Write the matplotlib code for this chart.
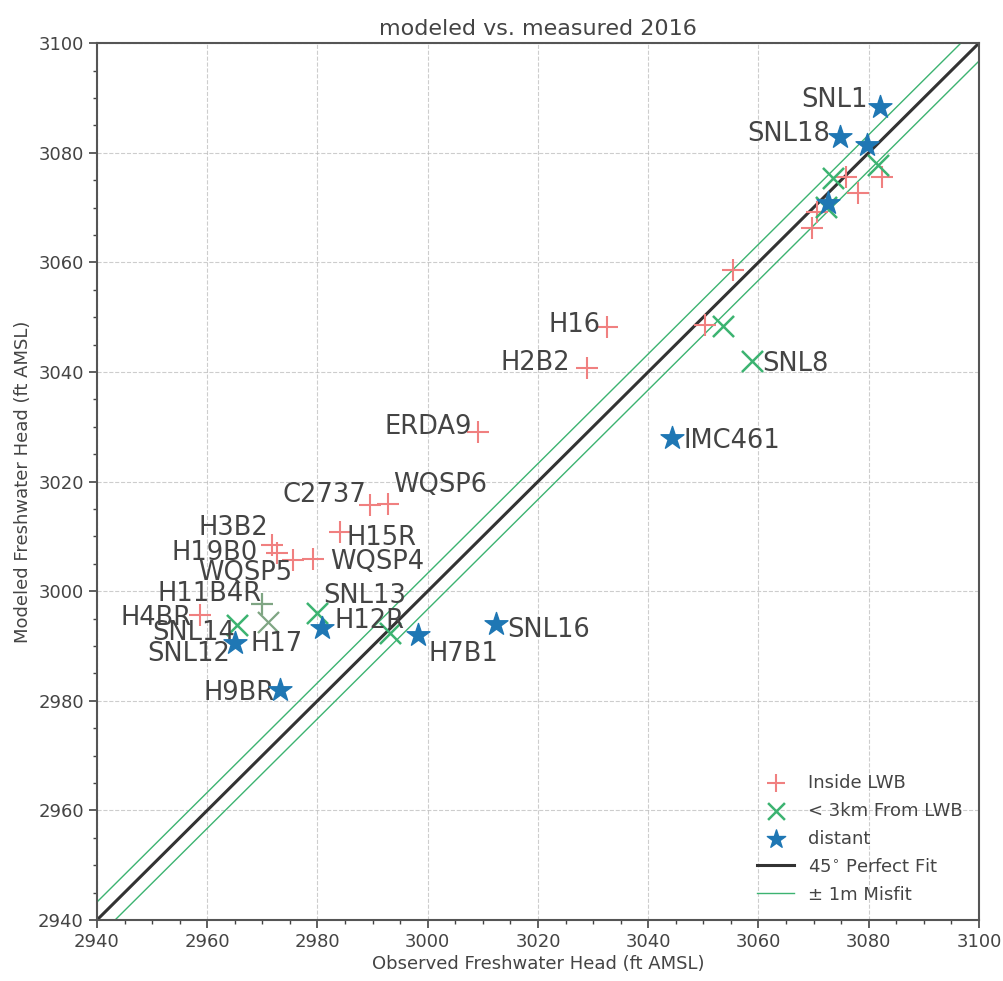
import matplotlib
matplotlib.use("Agg")
import matplotlib.pyplot as plt
import numpy as np
from matplotlib.ticker import MultipleLocator

# observed vs modeled freshwater head, ft AMSL
inside_names = ["H16", "H2B2", "ERDA9", "C2737", "WQSP6", "H15R", "H3B2", "H19B0",
                "WQSP5", "WQSP4", "H4BR", "", "", "", "", "", "", ""]
inside_obs = [3032.6, 3028.9, 3009.1, 2989.5, 2992.8, 2984.1, 2971.8, 2972.7,
              2975.6, 2979.2, 2958.7, 3050.3, 3055.4, 3069.8, 3070.7, 3075.8, 3078.1, 3082.5]
inside_mod = [3048.2, 3040.7, 3029.0, 3015.7, 3015.9, 3010.8, 3008.4, 3006.9,
              3005.7, 3005.8, 2995.6, 3048.5, 3058.6, 3066.2, 3069.2, 3075.5, 3072.6, 3075.5]

near_names = ["SNL8", "SNL14", "SNL13", "", "", "", "", ""]
near_obs = [3058.9, 2965.4, 2979.9, 2993.2, 3053.6, 3072.3, 3073.6, 3081.7]
near_mod = [3042.0, 2993.8, 2996.0, 2992.3, 3048.4, 3070.1, 3075.4, 3077.7]

distant_names = ["SNL1", "SNL18", "", "", "IMC461", "SNL16", "H7B1", "H12R", "SNL12", "H9BR"]
distant_obs = [3082.1, 3074.8, 3079.7, 3072.7, 3044.4, 3012.4, 2998.3, 2980.8, 2965.0, 2973.2]
distant_mod = [3088.3, 3082.8, 3081.4, 3070.8, 3027.9, 2994.0, 2992.0, 2993.2, 2990.5, 2981.9]

# two points drawn in a muted colour in the original
other_names = ["H11B4R", "H17"]
other_obs = [2969.9, 2971.0]
other_mod = [2997.6, 2994.3]
other_markers = ["+", "x"]

misfit_ft = 3.28  # 1 m
limits = [2940, 3100]

# label placement: (dx px, dy px, horizontal alignment)
label_style = {
    "SNL1": (-12, 10, "right"), "SNL18": (-10, 6, "right"), "H16": (-7, 5, "right"),
    "H2B2": (-17, 8, "right"), "SNL8": (10, 0, "left"), "ERDA9": (-6, 8, "right"),
    "IMC461": (11, 0, "left"), "C2737": (-3, 13, "right"), "WQSP6": (5, 22, "left"),
    "H15R": (6, -3, "left"), "H3B2": (-4, 20, "right"), "H19B0": (-19, 3, "right"),
    "WQSP5": (-1, -10, "right"), "WQSP4": (17, 0, "left"), "H11B4R": (0, 13, "right"),
    "SNL13": (6, 20, "left"), "H4BR": (-8, 0, "right"), "SNL14": (-2, -5, "right"),
    "H12R": (13, 10, "left"), "H17": (-17, -19, "left"), "SNL12": (-5, -8, "right"),
    "H9BR": (-5, 0, "right"), "H7B1": (10, -16, "left"), "SNL16": (11, -3, "left"),
}

PINK = "#f08080"
GREEN = "#3cb371"
BLUE = "#1f77b4"
MUTED = "#7fa583"
TEXT = "#444444"


def label_points(ax, names, xs, ys):
    for name, x, y in zip(names, xs, ys):
        if not name:
            continue
        dx, dy, ha = label_style[name]
        ax.annotate(name, (x, y), xytext=(dx, dy), textcoords="offset pixels",
                    ha=ha, va="center_baseline", fontsize=18.5, color=TEXT)


def main() -> None:
    plt.rcParams["font.family"] = ["DejaVu Sans"]
    fig = plt.figure(figsize=(10.04, 9.81), dpi=100)
    ax = fig.add_axes([0.0966, 0.0622, 0.8784, 0.8938])

    ax.grid(True, which="major", color="#b8b8b8", linestyle="--", linewidth=0.8, alpha=0.7)
    ax.set_axisbelow(True)

    line = np.array(limits)
    ax.plot(line, line, color="#333333", linewidth=2.2, label="45$^{\\circ}$ Perfect Fit", zorder=2)
    ax.plot(line, line + misfit_ft, color=GREEN, linewidth=1.0, label="\u00b1 1m Misfit", zorder=2)
    ax.plot(line, line - misfit_ft, color=GREEN, linewidth=1.0, zorder=2)

    ax.scatter(inside_obs, inside_mod, marker="+", s=260, color=PINK, linewidths=1.5,
               label="Inside LWB", zorder=3)
    ax.scatter(near_obs, near_mod, marker="x", s=230, color=GREEN, linewidths=1.8,
               label="< 3km From LWB", zorder=3)
    ax.scatter(distant_obs, distant_mod, marker="*", s=300, color=BLUE, edgecolors=BLUE,
               label="distant", zorder=4)
    for x, y, m in zip(other_obs, other_mod, other_markers):
        ax.scatter([x], [y], marker=m, s=260 if m == "+" else 230, color=MUTED,
                   linewidths=1.6, zorder=3)

    label_points(ax, inside_names, inside_obs, inside_mod)
    label_points(ax, near_names, near_obs, near_mod)
    label_points(ax, distant_names, distant_obs, distant_mod)
    label_points(ax, other_names, other_obs, other_mod)

    ax.set_xlim(limits)
    ax.set_ylim(limits)
    ax.xaxis.set_major_locator(MultipleLocator(20))
    ax.yaxis.set_major_locator(MultipleLocator(20))
    ax.xaxis.set_minor_locator(MultipleLocator(5))
    ax.yaxis.set_minor_locator(MultipleLocator(5))
    ax.tick_params(which="major", labelsize=13, colors=TEXT, length=6, width=1.2)
    ax.tick_params(which="minor", length=3, width=1.0, colors=TEXT)
    for spine in ax.spines.values():
        spine.set_color("#555555")
        spine.set_linewidth(1.5)

    ax.set_title("modeled vs. measured 2016", fontsize=16, color=TEXT, pad=6)
    ax.set_xlabel("Observed Freshwater Head (ft AMSL)", fontsize=13, color=TEXT, labelpad=3)
    ax.set_ylabel("Modeled Freshwater Head (ft AMSL)", fontsize=13, color=TEXT, labelpad=4)

    handles, labels = ax.get_legend_handles_labels()
    order = [labels.index(n) for n in ["Inside LWB", "< 3km From LWB", "distant",
                                        "45$^{\\circ}$ Perfect Fit", "\u00b1 1m Misfit"]]
    ax.legend([handles[i] for i in order], [labels[i] for i in order], loc="lower right",
              frameon=False, fontsize=13, labelcolor=TEXT, handlelength=2.0,
              markerscale=0.8, borderaxespad=0.5, labelspacing=0.55, handletextpad=0.8)

    fig.savefig("out.png", dpi=100)


if __name__ == "__main__":
    main()
